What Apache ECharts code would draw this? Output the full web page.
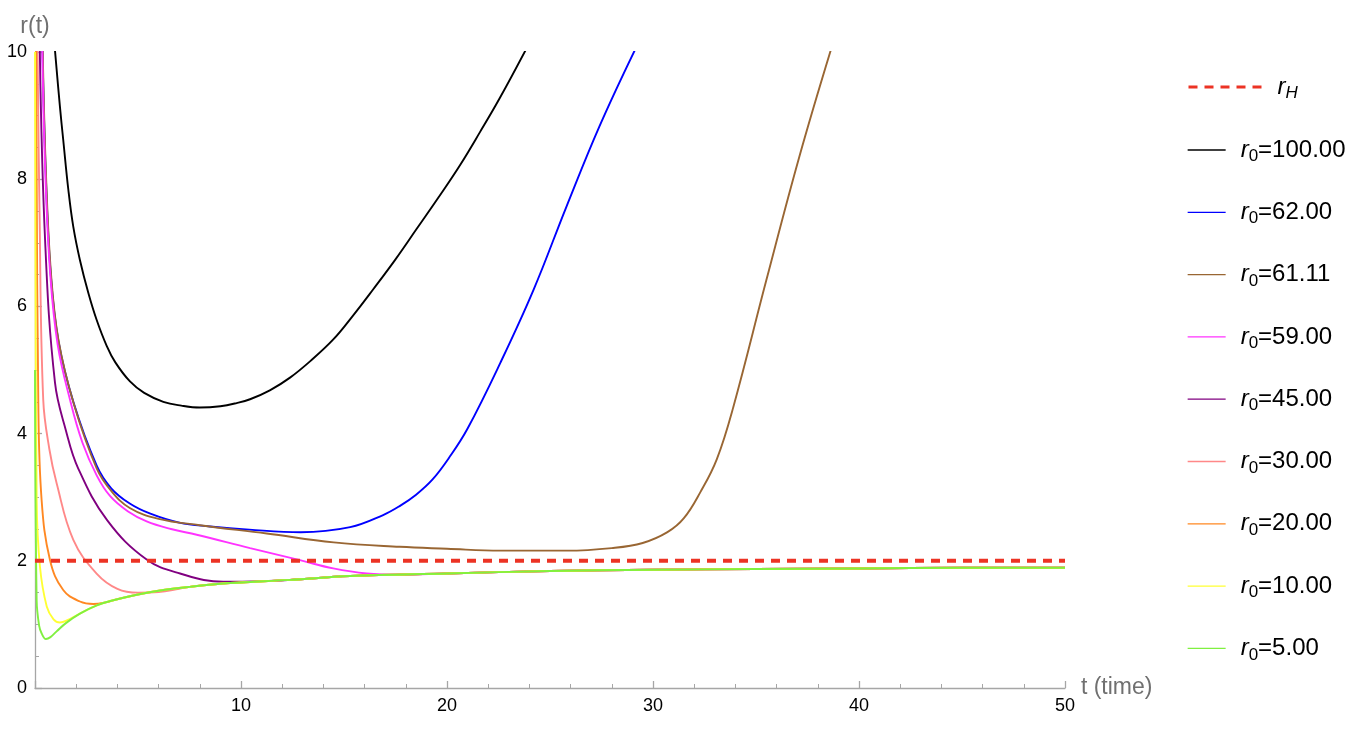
<!DOCTYPE html>
<html>
<head>
<meta charset="utf-8">
<script src="https://cdn.jsdelivr.net/npm/echarts@6/dist/echarts.min.js"></script>
<style>
html,body{margin:0;padding:0;background:#fff;}
#c{width:1364px;height:740px;}
</style>
</head>
<body>
<div id="c"></div>
<script>
// ---- data (t, r) ----
const horizon = [[0, 2], [50, 2]];
const r100 = [[0.95,10.1],[1.21,9.14],[1.37,8.62],[1.62,7.83],[1.86,7.25],[2.18,6.73],[2.59,6.21],[2.99,5.79],[3.48,5.38],[3.9,5.12],[4.61,4.82],[5.3,4.64],[6.23,4.50],[7.1,4.44],[8.0,4.41],[9.0,4.43],[9.79,4.48],[10.44,4.54],[11.4,4.68],[12.38,4.88],[13.4,5.15],[14.48,5.48],[15.4,5.84],[16.42,6.27],[17.5,6.74],[18.53,7.22],[19.6,7.72],[20.63,8.22],[21.6,8.74],[22.57,9.28],[23.85,10.05]];
const r62 = [[0.36,10.1],[0.52,8.1],[0.76,6.52],[1.13,5.47],[1.86,4.5],[2.99,3.5],[3.7,3.14],[4.6,2.9],[5.6,2.74],[7.0,2.6],[8.5,2.54],[10.4,2.49],[12.9,2.45],[15.3,2.53],[16.9,2.72],[17.7,2.86],[18.5,3.04],[19.3,3.28],[20.1,3.62],[21.0,4.08],[22.6,5.12],[24.2,6.26],[25.8,7.57],[27.4,8.83],[29.15,10.05]];
const r6111 = [[0.37,10.1],[0.53,8.1],[0.78,6.5],[1.15,5.45],[1.9,4.45],[3.0,3.45],[3.7,3.1],[4.6,2.83],[6.0,2.66],[8.0,2.56],[11.25,2.43],[14.5,2.29],[17.7,2.22],[20.0,2.19],[22.6,2.16],[25.8,2.16],[28.0,2.2],[29.5,2.28],[30.7,2.45],[31.5,2.67],[32.3,3.08],[33.1,3.6],[33.9,4.42],[35.5,6.41],[37.1,8.35],[38.65,10.05]];
const r59 = [[0.35,10.1],[0.5,8.1],[0.74,6.5],[1.1,5.4],[1.7,4.53],[2.3,3.86],[3.0,3.34],[3.64,3.02],[4.5,2.78],[5.42,2.62],[6.6,2.5],[7.85,2.41],[10.44,2.2],[12.86,2.01],[14.48,1.88],[16.1,1.8],[17.7,1.78],[20,1.8],[25,1.84],[30,1.86],[35,1.87],[40,1.88],[45,1.89],[50,1.89]];
const r45 = [[0.23,10.1],[0.49,7.04],[0.97,4.8],[1.5,4.05],[2.1,3.45],[3.5,2.64],[5.42,2.02],[7.04,1.8],[9.14,1.67],[11.08,1.68],[12.38,1.70],[15.3,1.76],[20,1.8],[25,1.84],[30,1.86],[35,1.87],[40,1.88],[45,1.89],[50,1.89]];
const r30 = [[0.12,10.1],[0.22,7.5],[0.4,4.53],[0.7,3.75],[1.05,3.22],[1.86,2.33],[2.99,1.8],[4.0,1.56],[5.0,1.5],[6.0,1.51],[7.0,1.56],[7.5,1.59],[9.47,1.65],[12.38,1.70],[15.3,1.76],[20,1.8],[25,1.84],[30,1.86],[35,1.87],[40,1.88],[45,1.89],[50,1.89]];
const r20 = [[0.05,10.1],[0.16,4.53],[0.32,2.96],[0.73,2.01],[1.37,1.54],[2.18,1.36],[2.83,1.32],[3.5,1.35],[3.8,1.38],[5,1.47],[6.23,1.54],[7.5,1.59],[9.47,1.65],[12.38,1.70],[15.3,1.76],[20,1.8],[25,1.84],[30,1.86],[35,1.87],[40,1.88],[45,1.89],[50,1.89]];
const r10 = [[0,10],[0.08,2.96],[0.24,1.91],[0.57,1.28],[0.9,1.08],[1.21,1.03],[1.6,1.07],[2.18,1.17],[3.0,1.3],[3.8,1.38],[5,1.47],[6.23,1.54],[7.5,1.59],[9.47,1.65],[12.38,1.70],[15.3,1.76],[20,1.8],[25,1.84],[30,1.86],[35,1.87],[40,1.88],[45,1.89],[50,1.89]];
const r5 = [[0,5],[0.08,1.38],[0.2,0.98],[0.32,0.86],[0.53,0.77],[0.75,0.8],[1.05,0.89],[1.5,1.02],[2.18,1.17],[3.0,1.3],[3.8,1.38],[5,1.47],[6.23,1.54],[7.5,1.59],[9.47,1.65],[12.38,1.70],[15.3,1.76],[20,1.8],[25,1.84],[30,1.86],[35,1.87],[40,1.88],[45,1.89],[50,1.89]];

const curveNames = ['r0=100.00','r0=62.00','r0=61.11','r0=59.00','r0=45.00','r0=30.00','r0=20.00','r0=10.00','r0=5.00'];
const curveData = [r100, r62, r6111, r59, r45, r30, r20, r10, r5];
const curveColors = ['#000000','#0000ff','#996633','#ff33ff','#800080','#ff8888','#ff8822','#ffff33','#80f040'];
const horizonName = 'r_H';

const FONT = '"Liberation Sans", Arial, Helvetica, sans-serif';
const chart = echarts.init(document.getElementById('c'), null, {renderer: 'canvas'});

const series = curveNames.map((n, i) => ({
  name: n, type: 'line', data: curveData[i], symbol: 'none',
  smooth: 0.4,
  lineStyle: {color: curveColors[i], width: 1.9}, itemStyle: {color: curveColors[i]},
  z: 2 + i * 0.01, silent: true
}));
series.push({
  name: horizonName, type: 'line', data: horizon, symbol: 'none', z: 3,
  lineStyle: {color: '#ec3324', width: 4, type: [9, 7]}, itemStyle: {color: '#ec3324'}, silent: true
});

const rich = {
  i: {fontFamily: FONT, fontSize: 24, fontStyle: 'italic', color: '#000', lineHeight: 30, padding: [0, 0, 0, 10]},
  s: {fontFamily: FONT, fontSize: 17, color: '#000', lineHeight: 14, verticalAlign: 'bottom'},
  sh: {fontFamily: FONT, fontSize: 17, fontStyle: 'italic', color: '#000', lineHeight: 14, verticalAlign: 'bottom'},
  n: {fontFamily: FONT, fontSize: 24, color: '#000', lineHeight: 30}
};
function legendFmt(name) {
  if (name === horizonName) return '{i|r}{sh|H}';
  const p = name.split('=');
  return '{i|r}{s|0}{n|=' + p[1] + '}';
}

chart.setOption({
  animation: false,
  backgroundColor: '#ffffff',
  grid: {left: 35, right: 299, top: 52, bottom: 52, containLabel: false},
  xAxis: {
    type: 'value', min: 0, max: 50, interval: 10,
    name: 't (time)', nameLocation: 'end', nameGap: 15,
    nameTextStyle: {color: '#707070', fontSize: 23, fontFamily: FONT, verticalAlign: 'middle'},
    axisLine: {show: true, onZero: false, lineStyle: {color: '#a6a6a6', width: 1.3}},
    axisTick: {show: true, inside: true, length: 7, lineStyle: {color: '#a6a6a6', width: 1.3}},
    minorTick: {show: true, splitNumber: 5, length: 4, lineStyle: {color: '#a6a6a6', width: 1}},
    axisLabel: {color: '#000', fontSize: 18, fontFamily: FONT, margin: 9,
      formatter: v => (v === 0 ? '' : String(v))},
    splitLine: {show: false}
  },
  yAxis: {
    type: 'value', min: 0, max: 10, interval: 2,
    name: 'r(t)', nameLocation: 'end', nameGap: 14,
    nameTextStyle: {color: '#707070', fontSize: 23, fontFamily: FONT},
    axisLine: {show: true, onZero: false, lineStyle: {color: '#a6a6a6', width: 1.3}},
    axisTick: {show: true, inside: true, length: 7, lineStyle: {color: '#a6a6a6', width: 1.3}},
    minorTick: {show: true, splitNumber: 4, length: 4, lineStyle: {color: '#a6a6a6', width: 1}},
    axisLabel: {color: '#000', fontSize: 18, fontFamily: FONT, margin: 8},
    splitLine: {show: false}
  },
  legend: [
    {
      data: [horizonName], orient: 'vertical', left: 1187, top: 75, padding: 0,
      itemWidth: 74, itemHeight: 14, selectedMode: false,
      formatter: legendFmt, textStyle: {rich: rich},
      lineStyle: {width: 3, type: [9, 7]}, itemStyle: {opacity: 0}
    },
    {
      data: curveNames, orient: 'vertical', left: 1187, top: 138, padding: 0,
      itemWidth: 38, itemHeight: 14, itemGap: 35.3, selectedMode: false,
      formatter: legendFmt, textStyle: {rich: rich},
      lineStyle: {width: 1.3}, itemStyle: {opacity: 0}
    }
  ],
  series: series
});
</script>
</body>
</html>
